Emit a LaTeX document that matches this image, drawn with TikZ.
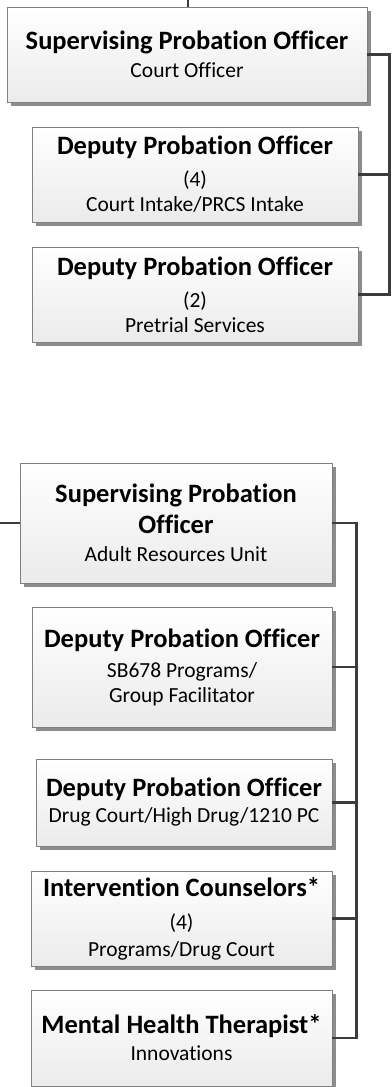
\documentclass[tikz,border=0pt]{standalone}
\usepackage{fontspec}
\setmainfont{Carlito}[Ligatures=NoCommon]
\usepackage{xcolor}
\usepackage{tikz}
\usetikzlibrary{positioning,shadows}

\definecolor{boxline}{RGB}{128,128,128}
\definecolor{boxshade}{RGB}{140,140,140}
\definecolor{linkline}{RGB}{60,60,60}
\newcommand{\boxtitle}[1]{{\fontsize{26.5}{31}\bfseries\selectfont #1}}

\begin{document}
\begin{tikzpicture}[x=1pt,y=1pt,font=\fontsize{21.5}{25}\selectfont]
\tikzstyle{box}=[rectangle,draw=boxline,line width=0.8pt,top color=white,bottom color=gray!16,align=center,inner sep=0pt,
  drop shadow={shadow xshift=4pt,shadow yshift=-4pt,fill=boxshade,opacity=1}]
\tikzstyle{link}=[draw=linkline,line width=2.4pt]
\useasboundingbox (0,0) rectangle (391,-1087);

% court officer group
\node[box,minimum width=360pt,minimum height=95pt] (spoCourt) at (187,-54.5)
  {\boxtitle{Supervising Probation Officer}\\[3pt] Court Officer};
\node[box,minimum width=326pt,minimum height=95pt] (dpoIntake) at (195,-174.5)
  {\boxtitle{Deputy Probation Officer}\\[7pt] (4)\\ Court Intake/PRCS Intake};
\node[box,minimum width=326pt,minimum height=95pt] (dpoPretrial) at (195,-294.5)
  {\boxtitle{Deputy Probation Officer}\\[7pt] (2)\\ Pretrial Services};

% adult resources group
\node[box,minimum width=312pt,minimum height=120pt] (spoAdult) at (176,-523)
  {\boxtitle{Supervising Probation}\\[6pt] \boxtitle{Officer}\\[3pt] Adult Resources Unit};
\node[box,minimum width=300pt,minimum height=120pt] (dpoGroup) at (182,-667)
  {\boxtitle{Deputy Probation Officer}\\[5pt] SB678 Programs/\\ Group Facilitator};
\node[box,minimum width=296pt,minimum height=87pt] (dpoDrug) at (184,-802.5)
  {\boxtitle{Deputy Probation Officer}\\[1pt] Drug Court/High Drug/1210 PC};
\node[box,minimum width=301pt,minimum height=95pt] (counselors) at (181.5,-918.5)
  {\boxtitle{Intervention Counselors*}\\[8pt] (4)\\[2pt] Programs/Drug Court};
\node[box,minimum width=301pt,minimum height=96pt] (therapist) at (181.5,-1038)
  {\boxtitle{Mental Health Therapist*}\\[2pt] Innovations};

\coordinate (topIn) at (188,0);
\coordinate (leftIn) at (0,-523);
\coordinate (railCourt) at (389.5,0);
\coordinate (railAdult) at (356.5,0);

\draw[link] (topIn) -- (topIn |- spoCourt.north);
\draw[link] (spoCourt.east) -- (spoCourt.east -| railCourt) -- (dpoPretrial.east -| railCourt) -- (dpoPretrial.east);
\draw[link] (dpoIntake.east) -- (dpoIntake.east -| railCourt);

\draw[link] (leftIn) -- (spoAdult.west);
\draw[link] (spoAdult.east) -- (spoAdult.east -| railAdult) -- (therapist.east -| railAdult) -- (therapist.east);
\foreach \n in {dpoGroup,dpoDrug,counselors}
  \draw[link] (\n.east) -- (\n.east -| railAdult);
\end{tikzpicture}
\end{document}
